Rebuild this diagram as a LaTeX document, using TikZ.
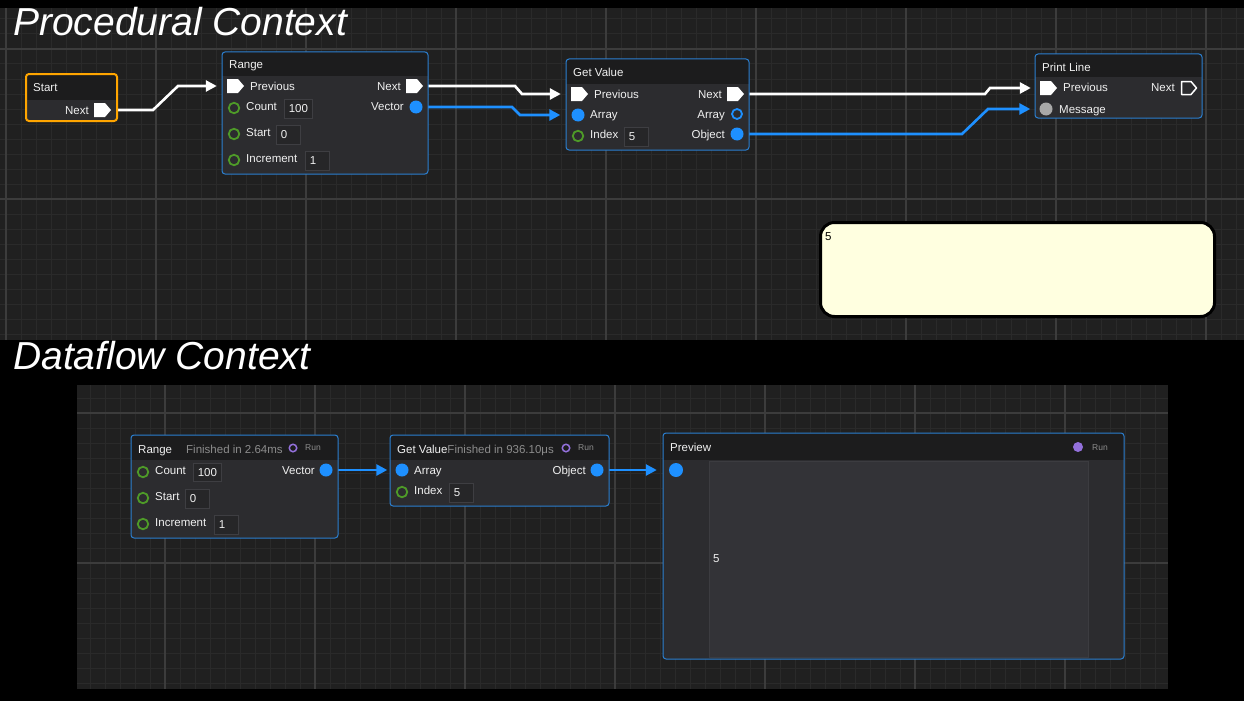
\documentclass[tikz,border=0pt]{standalone}
\usepackage{fontspec}
\setmainfont{Liberation Sans}
\usetikzlibrary{arrows.meta,fit}
\definecolor{gridbg}{HTML}{202020}
\definecolor{gminor}{HTML}{2A2A2A}
\definecolor{gmajor}{HTML}{3C3C3C}
\definecolor{hdrc}{HTML}{1C1C1D}
\definecolor{bodyc}{HTML}{2C2C2F}
\definecolor{nborder}{HTML}{2B7FD0}
\definecolor{startb}{HTML}{FFA500}
\definecolor{pinblue}{HTML}{1E90FF}
\definecolor{pingreen}{HTML}{4E9A28}
\definecolor{valfill}{HTML}{262628}
\definecolor{valdraw}{HTML}{3E3E42}
\definecolor{txt}{HTML}{F0F0F0}
\definecolor{greytxt}{HTML}{8C8C8C}
\definecolor{runpurple}{HTML}{9370DB}
\definecolor{msggrey}{HTML}{A8A8A8}
\definecolor{outyellow}{HTML}{FFFFE0}
\definecolor{prevpanel}{HTML}{333337}
\definecolor{prevline}{HTML}{3C3C40}
\pgfdeclarelayer{bg}
\pgfdeclarelayer{wires}
\pgfsetlayers{bg,wires,main}
\newcommand\nf{\fontsize{11.5}{13}\selectfont}
\newcommand\gnode[7]{%
  \begin{scope}
    \clip[rounded corners=3pt] (#2,#3) rectangle (#4,#5);
    \fill[bodyc] (#2,#3) rectangle (#4,#5);
    \fill[hdrc] (#2,#3) rectangle (#4,#6);
  \end{scope}
  \node[fit={(#2,#3)(#4,#5)}, inner sep=0pt, line width=1pt, rounded corners=3pt, #7] (#1) {};}
\newcommand\valbox[6]{% name x1 y1 x2 y2 text
  \node[fit={(#2,#3)(#4,#5)}, inner sep=0pt, draw=valdraw, fill=valfill, line width=0.8pt] (#1) {};
  \node[lbl] (#1t) at ([xshift=5pt,yshift=-1pt]#1.west) {#6};}
\begin{document}
\begin{tikzpicture}[x=1pt,y=-1pt,
  lbl/.style={inner sep=0pt, text=txt, font=\nf, anchor=west, text height=8.5pt, text depth=2.5pt},
  lblr/.style={lbl, anchor=east},
  greyl/.style={lbl, text=greytxt},
  runl/.style={inner sep=0pt, text=greytxt, font=\fontsize{8.5}{10}\selectfont, anchor=west},
  title/.style={inner sep=0pt, text=white, font=\fontsize{39}{44}\selectfont\itshape, anchor=base west},
  blueborder/.style={draw=nborder},
  startborder/.style={draw=startb, line width=2pt},
  bpin/.style={circle, fill=pinblue, inner sep=0pt, minimum size=13pt},
  bpino/.style={circle, draw=pinblue, line width=1.8pt, inner sep=0pt, minimum size=10pt},
  gpin/.style={circle, draw=pingreen, line width=1.8pt, inner sep=0pt, minimum size=10.5pt},
  greypin/.style={circle, fill=msggrey, inner sep=0pt, minimum size=13pt},
  runo/.style={circle, draw=runpurple, line width=1.5pt, inner sep=0pt, minimum size=7.5pt},
  runf/.style={circle, fill=runpurple, inner sep=0pt, minimum size=10pt},
  execpin/.style={minimum width=17pt, minimum height=14pt, inner sep=0pt,
    path picture={\fill[white] (path picture bounding box.south west) -- ([xshift=-6pt]path picture bounding box.south east) -- (path picture bounding box.east) -- ([xshift=-6pt]path picture bounding box.north east) -- (path picture bounding box.north west) -- cycle;}},
  execout/.style={minimum width=17pt, minimum height=15pt, inner sep=0pt,
    path picture={\draw[white, line width=1.5pt, line join=round] ([shift={(1pt,1pt)}]path picture bounding box.south west) -- ([shift={(-6.5pt,1pt)}]path picture bounding box.south east) -- ([xshift=-1pt]path picture bounding box.east) -- ([shift={(-6.5pt,-1pt)}]path picture bounding box.north east) -- ([shift={(1pt,-1pt)}]path picture bounding box.north west) -- cycle;}},
  wire/.style={line width=2.6pt, white, -{Triangle[length=11pt,width=11pt]}},
  bwire/.style={wire, pinblue},
]
\useasboundingbox (0,0) rectangle (1244,701);
\begin{pgfonlayer}{bg}
\fill[black] (0,0) rectangle (1244,701);
% top grid
\fill[gridbg] (0,8) rectangle (1244,340);
\begin{scope}
\clip (0,8) rectangle (1244,340);
\foreach \x in {6,21,...,1236} \draw[gminor, line width=1pt] (\x,8) -- (\x,340);
\foreach \y in {4,19,...,334} \draw[gminor, line width=1pt] (0,\y) -- (1244,\y);
\foreach \x in {6,156,...,1206} \draw[gmajor, line width=1.6pt] (\x,8) -- (\x,340);
\foreach \y in {49,199} \draw[gmajor, line width=1.6pt] (0,\y) -- (1244,\y);
\end{scope}
% bottom grid
\fill[gridbg] (77,385) rectangle (1168,689);
\begin{scope}
\clip (77,385) rectangle (1168,689);
\foreach \x in {90,105,...,1155} \draw[gminor, line width=1pt] (\x,385) -- (\x,689);
\foreach \y in {398,413,...,683} \draw[gminor, line width=1pt] (77,\y) -- (1168,\y);
\foreach \x in {165,315,...,1065} \draw[gmajor, line width=1.6pt] (\x,385) -- (\x,689);
\foreach \y in {413,563} \draw[gmajor, line width=1.6pt] (77,\y) -- (1168,\y);
\end{scope}
\end{pgfonlayer}

% titles
\node[title] (t1) at (13,36) {Procedural Context};
\node[title] (t2) at (13,369) {Dataflow Context};

% Start node
\gnode{start}{26}{74}{117}{121}{100}{startborder}
\node[lbl] (startt) at (33,89) {Start};
\node[lblr] (snextt) at (89,111) {Next};
\node[execpin] (snext) at (102.5,110) {};

% Range node
\gnode{range}{222}{52}{428}{174}{76}{blueborder}
\node[lbl] (ranget) at (229,66) {Range};
\node[execpin] (rprev) at (235.5,86) {};
\node[lbl] (rprevt) at (250,87) {Previous};
\node[lblr] (rnextt) at (401,87) {Next};
\node[execpin] (rnext) at (414.5,86) {};
\node[gpin] (rcount) at (234,108) {};
\node[lbl] (rcountt) at (246,107) {Count};
\valbox{rcountv}{284}{99}{312}{118}{100}
\node[lblr] (rvect) at (404,107) {Vector};
\node[bpin] (rvec) at (416,107) {};
\node[gpin] (rstart) at (234,134) {};
\node[lbl] (rstartt) at (246,133) {Start};
\valbox{rstartv}{276}{125}{300}{144}{0}
\node[gpin] (rinc) at (234,160) {};
\node[lbl] (rinct) at (246,159) {Increment};
\valbox{rincv}{305}{151}{329}{170}{1}

% Get Value node
\gnode{gv}{566}{59}{749}{150}{84}{blueborder}
\node[lbl] (gvt) at (573,73) {Get Value};
\node[execpin] (gprev) at (579.5,94) {};
\node[lbl] (gprevt) at (594,95) {Previous};
\node[lblr] (gnextt) at (722,95) {Next};
\node[execpin] (gnext) at (735.5,94) {};
\node[bpin] (garr) at (578,115) {};
\node[lbl] (garrt) at (590,115) {Array};
\node[lblr] (garrot) at (725,115) {Array};
\node[bpino] (garro) at (737,114) {};
\node[gpin] (gidx) at (578,136) {};
\node[lbl] (gidxt) at (590,135) {Index};
\valbox{gidxv}{624}{127}{648}{146}{5}
\node[lblr] (gobjt) at (725,135) {Object};
\node[bpin] (gobj) at (737,134) {};

% Print Line node
\gnode{pl}{1035}{54}{1202}{118}{77}{blueborder}
\node[lbl] (plt) at (1042,68) {Print Line};
\node[execpin] (pprev) at (1048.5,88) {};
\node[lbl] (pprevt) at (1063,89) {Previous};
\node[lblr] (pnextt) at (1175,89) {Next};
\node[execout] (pnext) at (1189,88) {};
\node[greypin] (pmsg) at (1046,109) {};
\node[lbl] (pmsgt) at (1059,110) {Message};

% output box
\node[fit={(820.5,222.5)(1214.5,316.5)}, inner sep=0pt, draw=black, line width=3pt, fill=outyellow, rounded corners=14pt] (out) {};
\node[lbl, text=black] (outt) at (825,237) {5};

% bottom Range
\gnode{brange}{131}{435}{338}{538}{460}{blueborder}
\node[lbl] (brt) at (138,450) {Range};
\node[greyl] (brfin) at (186,450) {Finished in 2.64ms};
\node[runo] (brrun) at (293,448) {};
\node[runl] (brrunt) at (305,448) {Run};
\node[gpin] (bcount) at (143,472) {};
\node[lbl] (bcountt) at (155,471) {Count};
\valbox{bcountv}{193}{463}{221}{481}{100}
\node[lblr] (brvect) at (315,471) {Vector};
\node[bpin] (brvec) at (326,470) {};
\node[gpin] (bstart) at (143,498) {};
\node[lbl] (bstartt) at (155,497) {Start};
\valbox{bstartv}{185}{489}{209}{508}{0}
\node[gpin] (binc) at (143,524) {};
\node[lbl] (binct) at (155,523) {Increment};
\valbox{bincv}{214}{515}{238}{534}{1}

% bottom Get Value
\gnode{bgv}{390}{435}{609}{506}{460}{blueborder}
\node[lbl] (bgvt) at (397,450) {Get Value\textcolor{greytxt}{Finished in 936.10μs}};
\node[runo] (bgrun) at (566,448) {};
\node[runl] (bgrunt) at (578,448) {Run};
\node[bpin] (bgarr) at (402,470) {};
\node[lbl] (bgarrt) at (414,471) {Array};
\node[lblr] (bgobjt) at (586,471) {Object};
\node[bpin] (bgobj) at (597,470) {};
\node[gpin] (bgidx) at (402,492) {};
\node[lbl] (bgidxt) at (414,491) {Index};
\valbox{bgidxv}{449}{483}{473}{502}{5}

% Preview
\gnode{prev}{663}{433}{1124}{659}{460}{blueborder}
\node[lbl] (prevt) at (670,448) {Preview};
\node[runf] (pvrun) at (1078,447) {};
\node[runl] (pvrunt) at (1092,448) {Run};
\node[bpin, minimum size=14pt] (pvin) at (676,470) {};
\node[fit={(709,461)(1088,657)}, inner sep=0pt, draw=prevline, fill=prevpanel, line width=0.8pt] (pvpanel) {};
\node[lbl] (pvval) at (713,559) {5};

% wires
\begin{pgfonlayer}{wires}
\draw[wire] (snext.center) -- (153,110) -- (178,86) -- ([xshift=-10pt]rprev.west);
\draw[wire] (rnext.center) -- (515,86) -- (522,94) -- ([xshift=-10pt]gprev.west);
\draw[bwire] (rvec.center) -- (512,107) -- (520,115) -- ([xshift=-11pt]garr.west);
\draw[wire] (gnext.center) -- (985,94) -- (990,88) -- ([xshift=-9pt]pprev.west);
\draw[bwire] (gobj.center) -- (962,134) -- (988,109) -- ([xshift=-9pt]pmsg.west);
\draw[bwire] (brvec.center) -- ([xshift=-8pt]bgarr.west);
\draw[bwire] (bgobj.center) -- ([xshift=-12pt]pvin.west);
\end{pgfonlayer}
\end{tikzpicture}
\end{document}
